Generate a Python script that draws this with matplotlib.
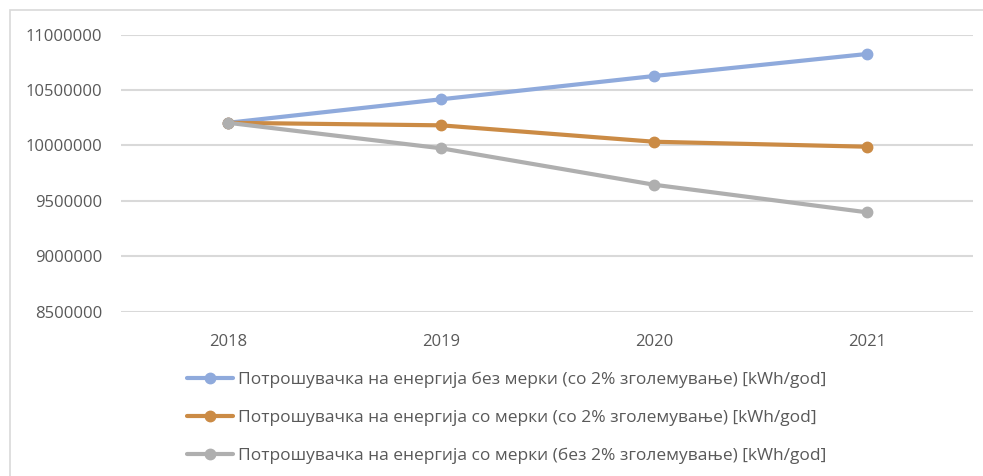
import matplotlib.pyplot as plt
from matplotlib.patches import Rectangle

years = ['2018', '2019', '2020', '2021']
bez_merki = [10205000, 10417000, 10627000, 10826000]
so_merki = [10205000, 10182000, 10034000, 9989000]
so_merki_bez_rast = [10205000, 9975000, 9646000, 9397000]

labels = [
    'Потрошувачка на енергија без мерки (со 2% зголемување) [kWh/god]',
    'Потрошувачка на енергија со мерки (со 2% зголемување) [kWh/god]',
    'Потрошувачка на енергија со мерки (без 2% зголемување) [kWh/god]',
]
colors = ['#8FAADC', '#CB8B45', '#AFAFAF']
yticks = [8500000, 9000000, 9500000, 10000000, 10500000, 11000000]

plt.rcParams['font.family'] = ['Open Sans', 'DejaVu Sans']

fig = plt.figure(figsize=(9.83, 4.76), dpi=100)
ax = fig.add_axes([0.1236, 0.3452, 0.8667, 0.5819])

x = range(len(years))
for vals, c, lab in zip([bez_merki, so_merki, so_merki_bez_rast], colors, labels):
    ax.plot(x, vals, color=c, lw=3, marker='o', ms=7.5, label=lab,
            solid_capstyle='round')

ax.set_xlim(-0.5, 3.5)
ax.set_ylim(8500000, 11000000)
ax.set_yticks(yticks)
ax.set_yticklabels([str(v) for v in yticks])
ax.set_xticks(list(x))
ax.set_xticklabels(years)
ax.grid(axis='y', color='#D9D9D9', lw=1.5)
ax.set_axisbelow(True)
for s in ax.spines.values():
    s.set_visible(False)
ax.tick_params(length=0, labelsize=12, labelcolor='#595959')
ax.tick_params(axis='y', pad=14)
ax.tick_params(axis='x', pad=16)

# chart border (cropped at right and bottom)
fig.add_artist(Rectangle((10 / 983, -0.1), 1.2, 1 - 10 / 476 + 0.1,
                         transform=fig.transFigure, fill=False,
                         edgecolor='#D9D9D9', lw=1.2))

h, l = ax.get_legend_handles_labels()
leg = fig.legend(h, l, loc='upper left', bbox_to_anchor=(187 / 983, 1 - 372 / 476),
                 frameon=False, fontsize=12.5, labelcolor='#595959',
                 handlelength=2.65, handletextpad=0.3, labelspacing=1.25,
                 borderpad=0, borderaxespad=0)

fig.savefig('out.png', dpi=100)
